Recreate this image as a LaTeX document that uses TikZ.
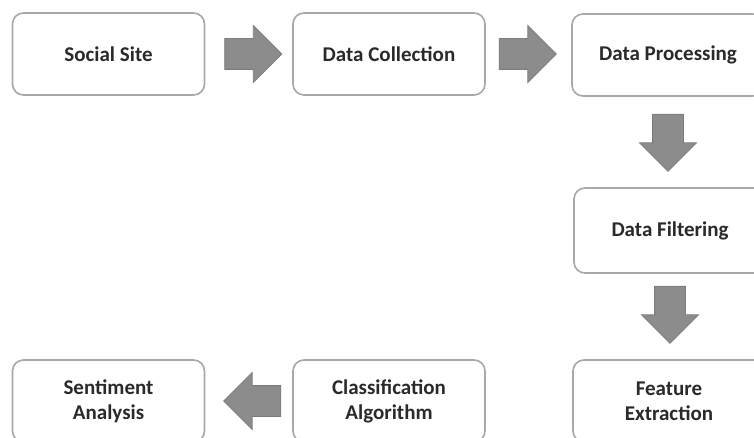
\documentclass[tikz,border=0pt]{standalone}
\usepackage{fontspec}
\setmainfont{Carlito}
\usetikzlibrary{shapes.arrows,calc}
\definecolor{boxgray}{HTML}{A8A8A8}
\definecolor{txtgray}{HTML}{2A2A2A}
\definecolor{arrowfill}{HTML}{8C8C8C}
\definecolor{arrowedge}{HTML}{7C7C7C}
\begin{document}
\begin{tikzpicture}[x=1pt,y=-1pt,
  box/.style={draw=boxgray, line width=1.6pt, rounded corners=11pt, fill=white,
    minimum width=192pt, minimum height=82pt, align=center,
    font=\bfseries\fontsize{21}{25}\selectfont, text=txtgray},
  barrow/.style={single arrow, draw=arrowedge, fill=arrowfill, line width=0.8pt,
    minimum height=57pt, single arrow head extend=13pt,
    inner xsep=0pt, inner ysep=15pt, anchor=tail}]
\useasboundingbox (0,0) rectangle (754,438);
\clip (0,0) rectangle (754,438);
\fill[white] (0,0) rectangle (754,438);
\node[box] (social) at (108.5,54) {Social Site};
\node[box] (collect) at (389,54) {Data Collection};
\node[box] (process) at (668,55) {Data Processing};
\node[box, minimum height=85pt] (filter) at (670,230.5) {Data Filtering};
\node[box] (feature) at (669,401) {Feature\\Extraction};
\node[box] (classif) at (389,401) {Classification\\Algorithm};
\node[box] (senti) at (108.5,401) {Sentiment\\Analysis};
\node[barrow] (a1) at ($(social.east)+(19,0)$) {};
\node[barrow] (a2) at ($(collect.east)+(13,0)$) {};
\node[barrow, rotate=-90] (a3) at ($(process.south)+(0,17)$) {};
\node[barrow, rotate=-90] (a4) at ($(filter.south)+(0,12)$) {};
\node[barrow, rotate=180] (a5) at ($(classif.west)-(11,0)$) {};
\end{tikzpicture}
\end{document}
